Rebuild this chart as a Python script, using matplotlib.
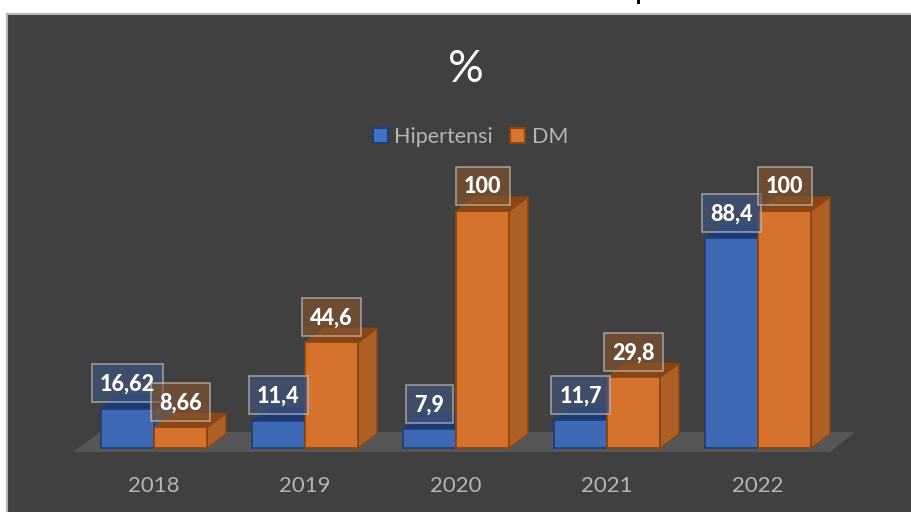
import matplotlib
matplotlib.use("Agg")
import matplotlib.pyplot as plt
from matplotlib.patches import Polygon, Rectangle, Patch

years = ["2018", "2019", "2020", "2021", "2022"]
hipertensi = [16.62, 11.4, 7.9, 11.7, 88.4]
dm = [8.66, 44.6, 100, 29.8, 100]
hipertensi_labels = ["16,62", "11,4", "7,9", "11,7", "88,4"]
dm_labels = ["8,66", "44,6", "100", "29,8", "100"]
hip_box_w = [71, 59, 47, 59, 59]
dm_box_w = [59, 59, 54, 59, 54]

plt.rcParams["font.family"] = ["Lato", "DejaVu Sans"]

W, H = 911, 512
PX_X = 151.0  # pixels per category
PX_Y = 2.37  # pixels per percent
X0, Y0 = 154, 448  # pixel of category 0 / value 0
BAR = 53 / PX_X
DX = 19 / PX_X
DY = 14 / PX_Y

BG = "#404040"


def bar3d(ax, x, w, h, front, top, side, edge):
    # side and top first, front goes over them
    ax.add_patch(Polygon([(x + w, 0), (x + w + DX, DY), (x + w + DX, h + DY), (x + w, h)],
                         fc=side, ec=edge, lw=1, zorder=3))
    ax.add_patch(Polygon([(x, h), (x + DX, h + DY), (x + w + DX, h + DY), (x + w, h)],
                         fc=top, ec=edge, lw=1, zorder=3))
    ax.add_patch(Rectangle((x, 0), w, h, fc=front, ec=edge, lw=1.3, zorder=4))


def label(ax, x, y, txt, fc, wpx):
    # box sits 25.5 px above the bar top, centred on the front face
    yc = y + 25.5 / PX_Y
    ax.add_patch(Rectangle((x - wpx / 2 / PX_X, yc - 19 / PX_Y), wpx / PX_X, 38 / PX_Y,
                           fc=fc, ec="#c8c8c8", lw=1.2, alpha=0.65, zorder=5))
    ax.text(x, yc - 0.4, txt, color="white", fontsize=15.5, fontweight="black", ha="center", va="center", zorder=6)


fig = plt.figure(figsize=(W / 100, H / 100), dpi=100, facecolor="white")
ax = fig.add_axes([0, 0, 1, 1])
ax.set_xlim(-X0 / PX_X, (W - X0) / PX_X)
ax.set_ylim((Y0 - H) / PX_Y, Y0 / PX_Y)
ax.axis("off")

# dark chart area, runs off the right and bottom edge
ax.add_patch(Rectangle(((7 - X0) / PX_X, (Y0 - H - 10) / PX_Y), (W + 10) / PX_X, (H - 4) / PX_Y,
                       fc=BG, ec="#b5b5b5", lw=1.5, zorder=0))

# floor
ax.add_patch(Polygon([((73 - X0) / PX_X, -4 / PX_Y), ((100 - X0) / PX_X, 16 / PX_Y),
                      ((855 - X0) / PX_X, 16 / PX_Y), ((830 - X0) / PX_X, -4 / PX_Y)],
                     fc="#565656", ec="none", zorder=1))

for i in range(len(years)):
    bar3d(ax, i - BAR, BAR, hipertensi[i], "#4069b5", "#1c3a72", "#2f5597", "#1f3f78")
    bar3d(ax, i, BAR, dm[i], "#d4722e", "#8a4513", "#ad5f26", "#8a4513")
    ax.text(i, -15.9, years[i], color="#b5b5b5", fontsize=16, ha="center", va="center")

for i in range(len(years)):
    label(ax, i - BAR / 2, hipertensi[i], hipertensi_labels[i], "#3f5580", hip_box_w[i])
    label(ax, i + BAR / 2, dm[i], dm_labels[i], "#85552f", dm_box_w[i])

ax.text((466 - X0) / PX_X, (Y0 - 69) / PX_Y, "%", color="white", fontsize=32, ha="center", va="center")

# bit of a cut-off letter above the chart
ax.add_patch(Rectangle(((636.5 - X0) / PX_X, (Y0 - 4) / PX_Y), 3 / PX_X, 5 / PX_Y, fc="black", ec="none"))

ax.legend(handles=[Patch(fc="#4472c4", ec="#1f3f78", lw=1.5, label="Hipertensi"),
                   Patch(fc="#d9772f", ec="#8a4513", lw=1.5, label="DM")],
          loc="center", bbox_to_anchor=(470.5 / W, 1 - 137 / H), ncol=2, frameon=False, fontsize=15.5,
          handlelength=0.7, handleheight=0.7, handletextpad=0.3, columnspacing=0.8, labelcolor="#b5b5b5")

fig.savefig("out.png", dpi=100, facecolor="white")
